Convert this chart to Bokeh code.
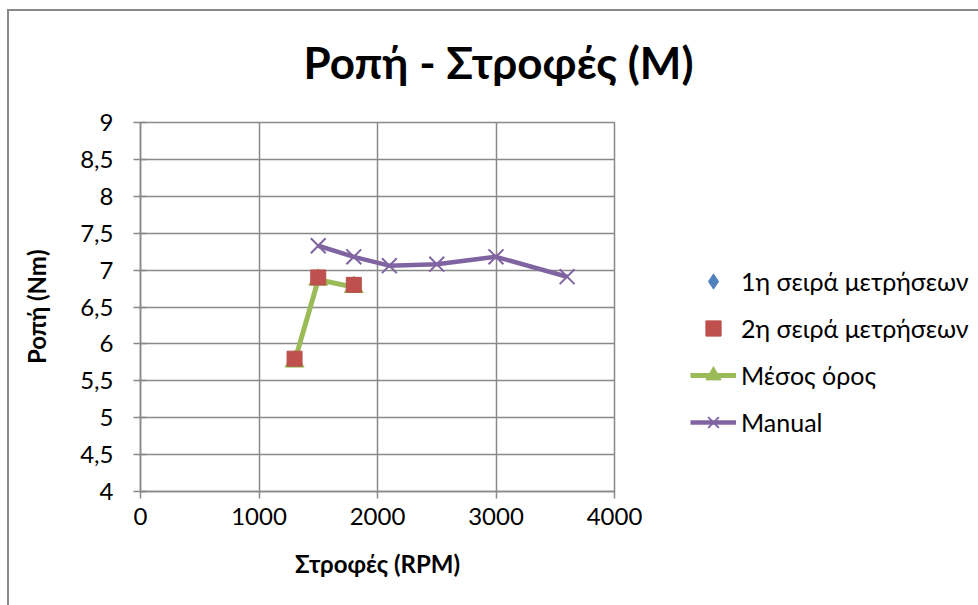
from bokeh.plotting import figure
from bokeh.models import Range1d, FixedTicker, CustomJSTickFormatter, Legend, LegendItem
from bokeh.embed import file_html
from bokeh.resources import INLINE

# ---- data ----
title_text = "Ροπή - Στροφές (M)"
x_label = "Στροφές (RPM)"
y_label = "Ροπή (Nm)"
series_names = ["1η σειρά μετρήσεων", "2η σειρά μετρήσεων", "Μέσος όρος", "Manual"]

rpm_1 = [1300, 1500, 1800]
torque_1 = [5.8, 6.9, 6.8]
rpm_2 = [1300, 1500, 1800]
torque_2 = [5.8, 6.9, 6.8]
rpm_avg = [1300, 1500, 1800]
torque_avg = [5.76, 6.87, 6.77]
rpm_manual = [1500, 1800, 2100, 2500, 3000, 3600]
torque_manual = [7.33, 7.18, 7.06, 7.08, 7.18, 6.91]

x_ticks = [0, 1000, 2000, 3000, 4000]
y_ticks = [4, 4.5, 5, 5.5, 6, 6.5, 7, 7.5, 8, 8.5, 9]

FONT = "Lato"
GRID = "#898989"
BORDER = "#8a8a8a"
BLUE = "#4F81BD"
RED = "#C0504D"
GREEN = "#9BBB59"
PURPLE = "#8064A2"

p = figure(frame_width=474, frame_height=369, output_backend="svg", toolbar_location=None,
           x_range=Range1d(x_ticks[0], x_ticks[-1]), y_range=Range1d(y_ticks[0], y_ticks[-1]),
           min_border_left=140, min_border_right=0, min_border_top=122, min_border_bottom=114)
# chart-area border (Excel style, left and top edges visible)
p.styles = {
    "background": (f"linear-gradient({BORDER}, {BORDER}) 7px 9px / 2px calc(100% - 9px) no-repeat, "
                   f"linear-gradient({BORDER}, {BORDER}) 7px 9px / calc(100% - 7px) 2px no-repeat, #ffffff"),
    "min-width": "978px",
}
p.background_fill_color = "white"
p.border_fill_alpha = 0
p.outline_line_color = GRID
p.outline_line_width = 1.5

# title
p.title.text = title_text
p.title.align = "left"
p.title.vertical_align = "top"
p.title.offset = 163
p.title.standoff = 66
p.title.text_font = FONT
p.title.text_font_style = "bold"
p.title.text_font_size = "44px"
p.title.text_color = "black"

# axes
p.xaxis.ticker = FixedTicker(ticks=x_ticks)
p.yaxis.ticker = FixedTicker(ticks=y_ticks)
p.yaxis.formatter = CustomJSTickFormatter(code="return (Math.round(tick*10)/10).toString().replace('.', ',');")
for ax in (p.xaxis, p.yaxis):
    ax.axis_line_color = GRID
    ax.axis_line_width = 1.5
    ax.major_tick_line_color = GRID
    ax.major_tick_line_width = 1.5
    ax.minor_tick_line_color = None
    ax.major_label_text_font = FONT
    ax.major_label_text_font_size = "24px"
    ax.major_label_text_color = "black"
    ax.axis_label_text_font = FONT
    ax.axis_label_text_font_style = "bold"
    ax.axis_label_text_font_size = "24px"
    ax.axis_label_text_color = "black"
p.xaxis.major_tick_in = 0
p.xaxis.major_tick_out = 7
p.yaxis.major_tick_in = 6
p.yaxis.major_tick_out = 7
p.xaxis.major_label_standoff = 9
p.yaxis.major_label_standoff = 20
p.xaxis.axis_label = x_label
p.yaxis.axis_label = y_label
p.xaxis.axis_label_standoff = 21
p.yaxis.axis_label_standoff = 26

p.xgrid.ticker = FixedTicker(ticks=x_ticks)
p.ygrid.ticker = FixedTicker(ticks=y_ticks)
for g in (p.xgrid, p.ygrid):
    g.grid_line_color = GRID
    g.grid_line_width = 1.5

# series
r_blue = p.scatter(rpm_1, torque_1, marker="diamond", size=15, fill_color=BLUE, line_color=BLUE)
r_gline = p.line(rpm_avg, torque_avg, line_color=GREEN, line_width=5)
r_gmark = p.scatter(rpm_avg, torque_avg, marker="triangle", size=19, fill_color=GREEN, line_color=GREEN)
r_red = p.scatter(rpm_2, torque_2, marker="square", size=15, fill_color=RED, line_color="#B8504C")
r_pline = p.line(rpm_manual, torque_manual, line_color=PURPLE, line_width=4.5)
r_pmark = p.scatter(rpm_manual, torque_manual, marker="x", size=21, line_color=PURPLE, line_width=2)

legend = Legend(items=[
    LegendItem(label=series_names[0], renderers=[r_blue]),
    LegendItem(label=series_names[1], renderers=[r_red]),
    LegendItem(label=series_names[2], renderers=[r_gline, r_gmark]),
    LegendItem(label=series_names[3], renderers=[r_pline, r_pmark]),
], location=(76, 50))
legend.glyph_width = 46
legend.glyph_height = 38
legend.label_standoff = 5
legend.spacing = 9
legend.padding = 0
legend.margin = 0
legend.border_line_alpha = 0
legend.background_fill_alpha = 0
legend.label_text_font = FONT
legend.label_text_font_size = "25px"
legend.label_text_color = "black"
p.add_layout(legend, "right")

open("out.html", "w").write(file_html(p, INLINE))
